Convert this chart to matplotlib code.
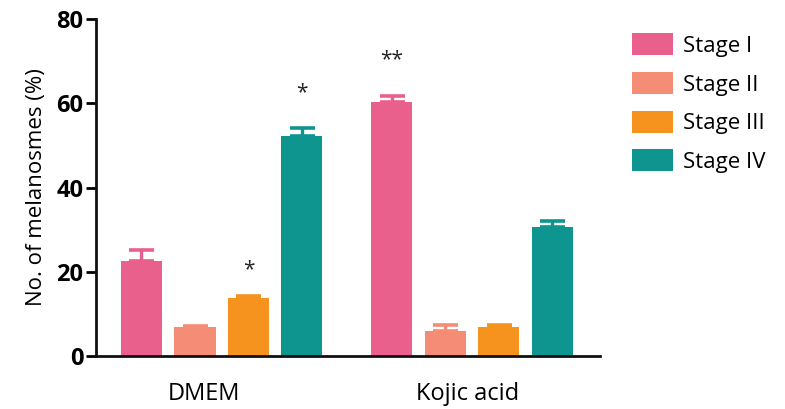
import matplotlib
matplotlib.use("Agg")
import matplotlib.pyplot as plt
from matplotlib.patches import Patch

plt.rcParams['font.family'] = ['Open Sans', 'DejaVu Sans']

groups = ["DMEM", "Kojic acid"]
stages = ["Stage I", "Stage II", "Stage III", "Stage IV"]
colors = ["#E9608C", "#F58C76", "#F6921E", "#0E958F"]

# mean and SEM per stage, one list per group
dmem_mean = [22.6, 6.9, 13.8, 52.3]
dmem_sem = [2.5, 0.3, 0.5, 1.8]
kojic_mean = [60.3, 5.9, 7.0, 30.7]
kojic_sem = [1.5, 1.4, 0.3, 1.4]

# significance marks per group and stage, with the height they sit at
dmem_sig = ["", "", "*", "*"]
dmem_sig_y = [0, 0, 20.4, 62.5]
kojic_sig = ["**", "", "", ""]
kojic_sig_y = [70.3, 0, 0, 0]

means = [dmem_mean, kojic_mean]
sems = [dmem_sem, kojic_sem]
sigs = [dmem_sig, kojic_sig]
sig_ys = [dmem_sig_y, kojic_sig_y]

group_offset = 4.68
bar_width = 0.77
label_pos = [1.17, 6.1]

fig = plt.figure(figsize=(7.85, 4.09), dpi=100)
ax = fig.add_axes([0.1223, 0.1296, 0.764 - 0.1223, 0.9535 - 0.1296])

for g in range(len(groups)):
    for s in range(len(stages)):
        x = g * group_offset + s
        m = means[g][s]
        e = sems[g][s]
        ax.bar(x, m, width=bar_width, color=colors[s], zorder=2)
        ax.errorbar(x, m, yerr=[[0], [e]], fmt="none", ecolor=colors[s],
                    elinewidth=2.4, capsize=9, capthick=2.6, zorder=2)
        if sigs[g][s]:
            ax.text(x, sig_ys[g][s], sigs[g][s], ha="center", va="center",
                    fontsize=15, color="#222222")

ax.set_xlim(-0.85, 8.57)
ax.set_ylim(0, 80)
ax.set_yticks([0, 20, 40, 60, 80])
ax.set_xticks(label_pos)
ax.set_xticklabels(groups, fontsize=17)
ax.tick_params(axis="x", length=0, pad=19)
ax.tick_params(axis="y", length=7, width=2, labelsize=17, pad=2)
for lbl in ax.get_yticklabels():
    lbl.set_fontweight("bold")
ax.set_ylabel("No. of melanosmes (%)", fontsize=16, labelpad=7)

for side in ["top", "right"]:
    ax.spines[side].set_visible(False)
for side in ["left", "bottom"]:
    ax.spines[side].set_linewidth(2)
    ax.spines[side].set_color("#111111")

handles = [Patch(facecolor=c, edgecolor="none") for c in colors]
fig.legend(handles, stages, loc="upper left", bbox_to_anchor=(0.794, 0.94),
           frameon=False, fontsize=16, handlelength=1.85, handleheight=1.15,
           labelspacing=0.68, handletextpad=0.45, borderaxespad=0)

fig.savefig("out.png", dpi=100)
